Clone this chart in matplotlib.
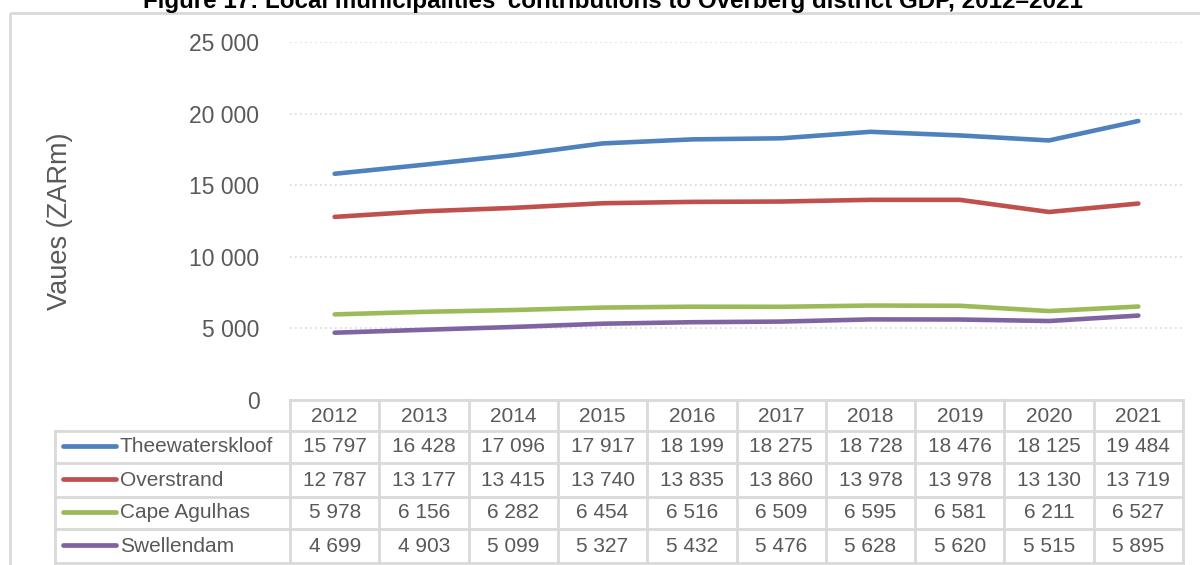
import matplotlib.pyplot as plt
from matplotlib.patches import Rectangle

plt.rcParams["font.family"] = ["Liberation Sans", "DejaVu Sans"]

years = ["2012", "2013", "2014", "2015", "2016", "2017", "2018", "2019", "2020", "2021"]
theewaterskloof = [15797, 16428, 17096, 17917, 18199, 18275, 18728, 18476, 18125, 19484]
overstrand = [12787, 13177, 13415, 13740, 13835, 13860, 13978, 13978, 13130, 13719]
cape_agulhas = [5978, 6156, 6282, 6454, 6516, 6509, 6595, 6581, 6211, 6527]
swellendam = [4699, 4903, 5099, 5327, 5432, 5476, 5628, 5620, 5515, 5895]

series_names = ["Theewaterskloof", "Overstrand", "Cape Agulhas", "Swellendam"]
series_values = [theewaterskloof, overstrand, cape_agulhas, swellendam]
colors = ["#4F81BD", "#C0504D", "#9BBB59", "#8064A2"]

y_ticks = [0, 5000, 10000, 15000, 20000, 25000]

TEXT = "#595959"
GRID = "#D9D9D9"
W, H = 1200, 565


def fmt(v):
    return f"{v:,}".replace(",", " ")


fig = plt.figure(figsize=(12, 5.65), dpi=100)

# overlay in pixel coordinates for the frame, title, axis label and data table
ov = fig.add_axes([0, 0, 1, 1])
ov.set_xlim(0, W)
ov.set_ylim(H, 0)
ov.axis("off")

ov.add_patch(Rectangle((10, 13), 1200, 600, fill=False, edgecolor=GRID, lw=2))
# title sits partly above the top edge, as in the source image
ov.text(613, 8, "Figure 17: Local municipalities' contributions to Overberg district GDP, 2012–2021",
        ha="center", va="baseline", fontsize=17.4, fontweight="bold", color="black")
ov.text(60, 221, "Vaues (ZARm)", rotation=90, ha="center", va="center",
        fontsize=19.5, color=TEXT)

# plot area
left, right = 290, 1183
top_px, zero_px = 42, 400
ax = fig.add_axes([left / W, (H - zero_px) / H, (right - left) / W, (zero_px - top_px) / H])
x = list(range(len(years)))
for name, vals, c in zip(series_names, series_values, colors):
    ax.plot(x, vals, color=c, lw=3.3, solid_capstyle="round", label=name)
ax.set_xlim(-0.5, len(years) - 0.5)
ax.set_ylim(0, 25000)
ax.set_yticks(y_ticks)
ax.set_yticklabels([fmt(t) for t in y_ticks], fontsize=16.5, color=TEXT)
ax.tick_params(axis="y", length=0, pad=22)
ax.set_xticks([])
for s in ax.spines.values():
    s.set_visible(False)
ax.yaxis.grid(True, color=GRID, linestyle=(0, (1, 2)), lw=1.2)
ax.set_axisbelow(True)
ax.patch.set_alpha(0)

# data table
col_w = (right - left) / len(years)
rows_y = [400, 430.7, 463.3, 496.7, 529.3, 562.7]
label_left = 55
lc = dict(color=GRID, lw=2)

ov.plot([left, right], [rows_y[0], rows_y[0]], **lc)
for y in rows_y[1:]:
    ov.plot([label_left, right], [y, y], **lc)
ov.plot([label_left, label_left], [rows_y[1], rows_y[-1]], **lc)
for i in range(len(years) + 1):
    xx = left + i * col_w
    ov.plot([xx, xx], [rows_y[0], rows_y[-1]], **lc)

for i, yr in enumerate(years):
    ov.text(left + (i + 0.5) * col_w, (rows_y[0] + rows_y[1]) / 2 + 1, yr,
            ha="center", va="center", fontsize=15, color=TEXT)

for r, (name, vals, c) in enumerate(zip(series_names, series_values, colors)):
    yc = (rows_y[r + 1] + rows_y[r + 2]) / 2
    ov.plot([63, 116], [yc - 1, yc - 1], color=c, lw=3.4, solid_capstyle="round")
    ov.text(120, yc, name, ha="left", va="center", fontsize=15, color=TEXT)
    for i, v in enumerate(vals):
        ov.text(left + (i + 0.5) * col_w, yc, fmt(v), ha="center", va="center",
                fontsize=15, color=TEXT)

fig.savefig("out.png", dpi=100)
